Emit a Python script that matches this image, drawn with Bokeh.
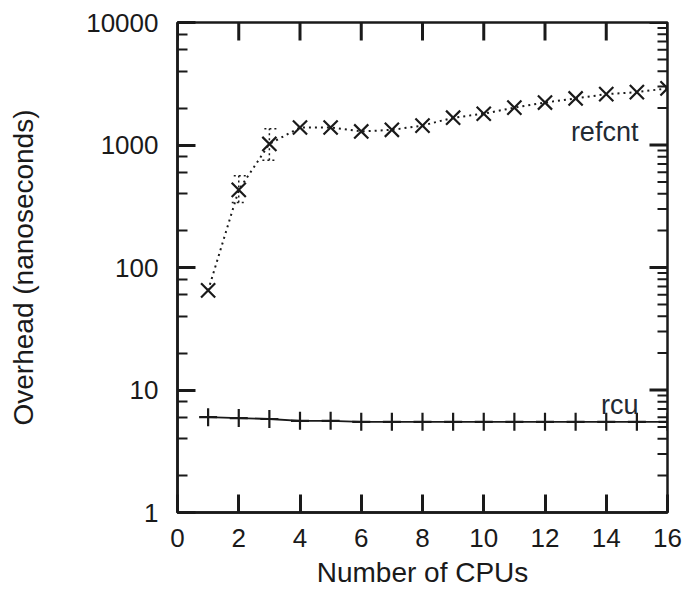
import math
from bokeh.plotting import figure
from bokeh.models import (SingleIntervalTicker, LogTicker, NumeralTickFormatter,
                          Whisker, TeeHead, ColumnDataSource, Range1d)
from bokeh.embed import file_html
from bokeh.resources import INLINE
from bokeh.core.properties import value

# ---- data ----
cpus = [1, 2, 3, 4, 5, 6, 7, 8, 9, 10, 11, 12, 13, 14, 15, 16]
refcnt = [65, 430, 1020, 1390, 1390, 1290, 1330, 1440, 1670, 1800, 2020, 2220, 2400, 2600, 2700, 2900]
rcu = [6.0, 5.9, 5.8, 5.6, 5.6, 5.5, 5.5, 5.5, 5.5, 5.5, 5.5, 5.5, 5.5, 5.5, 5.5, 5.5]
err_x = [2, 3]
err_low = [340, 750]
err_high = [560, 1360]
x_ticks = [0, 2, 4, 6, 8, 10, 12, 14, 16]
y_decades = [1, 10, 100, 1000, 10000]
label_refcnt = "refcnt"
label_rcu = "rcu"

FONT = "Liberation Sans"
INK = "#1a1a1a"
X0, X1 = 0, 16
Y0, Y1 = 1, 10000

p = figure(frame_width=490, frame_height=490,
           min_border_left=177, min_border_right=24, min_border_top=22, min_border_bottom=85,
           y_axis_type="log", x_range=Range1d(X0, X1), y_range=Range1d(Y0, Y1),
           output_backend="svg", toolbar_location=None,
           x_axis_label="Number of CPUs", y_axis_label="Overhead (nanoseconds)")
p.grid.visible = False
p.outline_line_color = INK
p.outline_line_width = 2.5
p.background_fill_color = "white"
p.border_fill_color = "white"

def style(ax):
    ax.major_tick_in = 18
    ax.major_tick_out = 0
    ax.minor_tick_in = 10
    ax.minor_tick_out = 0
    ax.major_tick_line_width = 3
    ax.minor_tick_line_width = 2
    ax.major_tick_line_color = INK
    ax.minor_tick_line_color = INK
    ax.axis_line_color = INK
    ax.axis_line_width = 2.5
    ax.major_label_text_font = FONT
    ax.major_label_text_color = INK
    ax.major_label_text_font_size = "26px"
    ax.axis_label_text_font = FONT
    ax.axis_label_text_font_style = "normal"
    ax.axis_label_text_color = INK
    ax.axis_label_text_font_size = "28px"

xa = p.xaxis[0]
xa.ticker = SingleIntervalTicker(interval=2, num_minor_ticks=0)
style(xa)
xa.major_label_standoff = 16
xa.axis_label_standoff = 7

ya = p.yaxis[0]
ya.ticker = LogTicker()
ya.formatter = NumeralTickFormatter(format="0")
style(ya)
ya.major_label_standoff = 19
ya.axis_label_standoff = 44

# mirrored inward ticks on top and right edges
p.ray(x=x_ticks, y=[Y1] * len(x_ticks), length=18, length_units="screen",
      angle=-math.pi / 2, line_color=INK, line_width=3)
y_minor = [d * m for d in y_decades[:-1] for m in range(2, 10)]
p.ray(x=[X1] * len(y_decades), y=y_decades, length=18, length_units="screen",
      angle=math.pi, line_color=INK, line_width=3)
p.ray(x=[X1] * len(y_minor), y=y_minor, length=10, length_units="screen",
      angle=math.pi, line_color=INK, line_width=2)

# refcnt series
p.line(cpus, refcnt, line_color=INK, line_width=2, line_dash="2 4")
p.scatter(cpus, refcnt, marker="x", size=20, line_color=INK, line_width=2.2)
src = ColumnDataSource(dict(x=err_x, lo=err_low, hi=err_high))
w = Whisker(source=src, base="x", lower="lo", upper="hi",
            line_color=INK, line_width=1.5, line_dash="2 3",
            upper_head=TeeHead(size=14, line_color=INK, line_width=1.5, line_dash="2 3"),
            lower_head=TeeHead(size=14, line_color=INK, line_width=1.5, line_dash="2 3"))
p.add_layout(w)

# rcu series
p.line(cpus, rcu, line_color=INK, line_width=1.8)
p.scatter(cpus, rcu, marker="cross", size=18, line_color=INK, line_width=2.2)

# series labels
p.text(x=[15.05], y=[1265], text=[label_refcnt], text_align="right", text_baseline="alphabetic",
       text_font=value(FONT), text_font_size="27px", text_color="#222a33")
p.text(x=[15.05], y=[7.5], text=[label_rcu], text_align="right", text_baseline="alphabetic",
       text_font=value(FONT), text_font_size="27px", text_color="#222a33")

open("out.html", "w").write(file_html(p, INLINE))
